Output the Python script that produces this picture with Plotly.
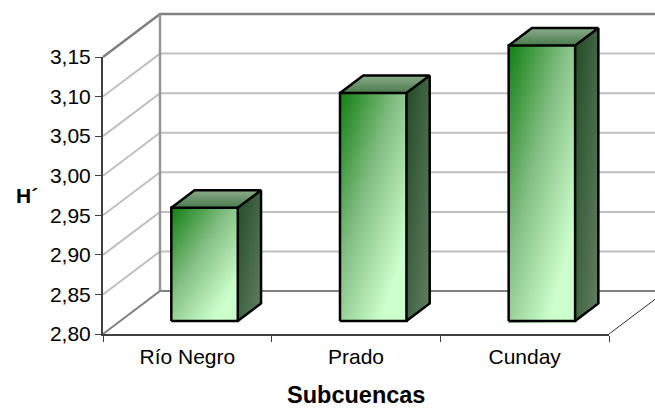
import numpy as np
import plotly.graph_objects as go

# Chart data
categories = ["Río Negro", "Prado", "Cunday"]
values = [2.943, 3.088, 3.148]
y_ticks = [2.80, 2.85, 2.90, 2.95, 3.00, 3.05, 3.10, 3.15]
x_title = "Subcuencas"
y_title = "H´"

# Oblique projection of the depth axis, in data units
DEPTH_X = 0.338
DEPTH_Y = 0.0543
BAR_FRONT = 0.302
BAR_BACK = 0.71
BAR_WIDTH = 0.394

W, H = 655, 409
PX_LEFT, PX_RIGHT, PX_BASE, PX_TOP = 103, 609, 334, 57
X_UNIT = (PX_RIGHT - PX_LEFT) / 3
Y_UNIT = (PX_BASE - PX_TOP) / 0.35
Y_MIN, Y_MAX = y_ticks[0], y_ticks[-1]
FONT = "Liberation Sans"


def hex_rgb(c):
    return np.array([int(c[i:i + 2], 16) for i in (1, 3, 5)], dtype=float)


def mix(a, b, t):
    r = hex_rgb(a) * (1 - t) + hex_rgb(b) * t
    return "rgb(%d,%d,%d)" % tuple(r.round())


def depth(x, y, f):
    return x + DEPTH_X * f, y + DEPTH_Y * f


fig = go.Figure()


def wall_line(xs, ys, color, width, axes=("x", "y")):
    fig.add_trace(go.Scatter(x=xs, y=ys, mode="lines", xaxis=axes[0], yaxis=axes[1],
                             line=dict(color=color, width=width), hoverinfo="skip",
                             showlegend=False))


# Gridlines across the side wall and the back wall
x_far = 3.3
for tick in y_ticks[1:-1]:
    bx, by = depth(0, tick, 1)
    wall_line([0, bx, x_far], [tick, by, by], "#c0c0c0", 2)

# Wall frame
bx, by_top = depth(0, Y_MAX, 1)
_, by_base = depth(0, Y_MIN, 1)
wall_line([0, bx, x_far], [Y_MAX, by_top, by_top], "#808080", 2.5)
wall_line([bx, bx], [by_base, by_top], "#969696", 2.5)
wall_line([0, bx, x_far], [Y_MIN, by_base, by_base], "#808080", 2)
ex, ey = depth(3, Y_MIN, 1)
wall_line([3, ex], [Y_MIN, ey], "#303030", 1)

# Visible axes; the hidden trace only attaches them to a subplot
fig.add_trace(go.Scatter(x=[0.5, 1.5, 2.5], y=values, mode="none", xaxis="x2", yaxis="y2",
                         hoverinfo="skip", showlegend=False))

# Bars: sheared side and top faces plus a shaded front face
ov = ("x3", "y3")
for i, v in enumerate(values):
    x0 = i + 0.5 - BAR_WIDTH / 2 + DEPTH_X * BAR_FRONT
    x1 = x0 + BAR_WIDTH
    y0 = Y_MIN + DEPTH_Y * BAR_FRONT
    y1 = v + DEPTH_Y * BAR_FRONT
    dx = DEPTH_X * (BAR_BACK - BAR_FRONT)
    dy = DEPTH_Y * (BAR_BACK - BAR_FRONT)

    # Right side face: each strip runs to the far edge and the next one paints over it
    n = 12
    for k in range(n):
        a = k / n
        xs = [x1 + dx * a, x1 + dx, x1 + dx, x1 + dx * a, x1 + dx * a]
        ys = [y0 + dy * a, y0 + dy, y1 + dy, y1 + dy * a, y0 + dy * a]
        u = (k + 0.5) / n
        fig.add_trace(go.Scatter(
            x=xs, y=ys, mode="lines", fill="toself", xaxis=ov[0], yaxis=ov[1],
            line=dict(width=0), hoverinfo="skip", showlegend=False,
            fillgradient=dict(
                type="vertical", start=y1 + dy, stop=y0,
                colorscale=[[0, mix("#234a25", "#628063", u / 2)],
                            [1, mix("#234a25", "#628063", (u + 1) / 2)]])))

    # Top face
    fig.add_trace(go.Scatter(
        x=[x0, x1, x1 + dx, x0 + dx, x0], y=[y1, y1, y1 + dy, y1 + dy, y1],
        mode="lines", fill="toself", xaxis=ov[0], yaxis=ov[1],
        line=dict(width=0), hoverinfo="skip", showlegend=False,
        fillgradient=dict(type="vertical", start=y1, stop=y1 + dy,
                          colorscale=[[0, "#4a7a4c"], [1, "#8aac8a"]])))

    # Front face with a corner-to-corner ramp
    gx = np.linspace(x0, x1, 50)
    gy = np.linspace(y0, y1, 90)
    u, w = np.meshgrid(np.linspace(0, 1, 50), np.linspace(1, 0, 90))
    fig.add_trace(go.Heatmap(
        x=gx, y=gy, z=np.minimum(0.58 * u + 0.65 * w, 1), xaxis=ov[0], yaxis=ov[1],
        zmin=0, zmax=1, zsmooth="best",
        colorscale=[[0, "#148014"], [0.5, "#84bf84"], [1, "#ccffcc"]],
        showscale=False, hoverinfo="skip"))

    # Outlines
    wall_line([x0, x1, x1, x0, x0], [y0, y0, y1, y1, y0], "#000000", 2.5, ov)
    wall_line([x0, x0 + dx, x1 + dx, x1], [y1, y1 + dy, y1 + dy, y1], "#000000", 2.5, ov)
    wall_line([x1 + dx, x1 + dx, x1], [y1 + dy, y0 + dy, y0], "#000000", 2.5, ov)

x_range = [-PX_LEFT / X_UNIT, (W - PX_LEFT) / X_UNIT]
y_range = [Y_MIN - (H - PX_BASE) / Y_UNIT, Y_MIN + PX_BASE / Y_UNIT]
hidden = dict(visible=False, fixedrange=True)

fig.update_layout(
    width=W, height=H, margin=dict(l=0, r=0, t=0, b=0),
    paper_bgcolor="#ffffff", plot_bgcolor="rgba(0,0,0,0)", separators=",.",
    font=dict(family=FONT, size=21, color="#000000"), showlegend=False,
    xaxis=dict(domain=[0, 1], range=x_range, **hidden),
    yaxis=dict(domain=[0, 1], range=y_range, **hidden),
    xaxis3=dict(domain=[0, 1], range=x_range, overlaying="x", **hidden),
    yaxis3=dict(domain=[0, 1], range=y_range, overlaying="y", **hidden),
    xaxis2=dict(
        domain=[PX_LEFT / W, PX_RIGHT / W], range=[0, 3], anchor="y2", automargin=False,
        showline=True, linecolor="#404040", linewidth=2, showgrid=False, zeroline=False,
        tickmode="array", tickvals=[0.5, 1.5, 2.5], ticktext=categories, ticks="",
        tickfont=dict(family=FONT, size=21), ticklabelstandoff=3,
        minor=dict(tickmode="array", tickvals=[0, 1, 2, 3], ticks="outside", ticklen=6,
                   tickcolor="#404040", tickwidth=1, showgrid=False)),
    yaxis2=dict(
        domain=[(H - PX_BASE) / H, (H - PX_TOP) / H], range=[Y_MIN, Y_MAX], anchor="x2",
        automargin=False,
        showline=True, linecolor="#404040", linewidth=2, showgrid=False, zeroline=False,
        tickmode="array", tickvals=y_ticks, tickformat=".2f", ticks="outside", ticklen=6,
        tickcolor="#404040", tickwidth=1, tickfont=dict(family=FONT, size=21)),
    annotations=[
        dict(text="<b>%s</b>" % y_title, xref="paper", yref="paper", x=14 / W, xanchor="left",
             y=(H - 195) / H, yanchor="middle", showarrow=False,
             font=dict(family=FONT, size=21)),
        dict(text="<b>%s</b>" % x_title, xref="paper", yref="paper", x=356 / W, xanchor="center",
             y=(H - 394.5) / H, yanchor="middle", showarrow=False, borderpad=0,
             font=dict(family=FONT, size=23.5)),
    ],
)

fig.write_html("out.html", config=dict(displayModeBar=False))
